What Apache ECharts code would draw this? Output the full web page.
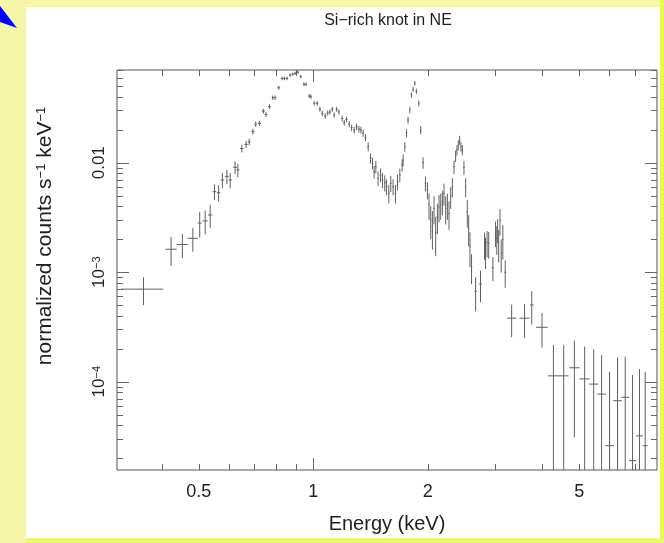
<!DOCTYPE html>
<html>
<head>
<meta charset="utf-8">
<script src="https://cdn.jsdelivr.net/npm/echarts@6/dist/echarts.min.js"></script>
<style>
  html, body { margin: 0; padding: 0; background: #f5f6a8; }
  #main { width: 664px; height: 543px; }
</style>
</head>
<body>
<div id="main"></div>
<script>
// spectrum points: bin centre (keV), half width, normalized counts, 1-sigma error
var energy = [
  0.358, 0.423, 0.453, 0.4825, 0.503, 0.520, 0.536, 0.550, 0.564, 0.577,
  0.593, 0.605, 0.623, 0.6335, 0.649, 0.666, 0.6785, 0.694, 0.706, 0.722,
  0.7395, 0.7515, 0.767, 0.7826, 0.7937, 0.8115, 0.828, 0.8396, 0.853, 0.869,
  0.883, 0.8955, 0.9047, 0.912, 0.927, 0.9454, 0.957, 0.976, 0.986, 1.006,
  1.024, 1.041, 1.056, 1.075, 1.091, 1.106, 1.122, 1.135, 1.152, 1.168,
  1.191, 1.206, 1.223, 1.243, 1.261, 1.281, 1.2995, 1.318, 1.334, 1.352,
  1.372, 1.394, 1.414, 1.431, 1.445, 1.460, 1.480, 1.502, 1.520, 1.541,
  1.557, 1.579, 1.598, 1.621, 1.644, 1.664, 1.688, 1.712, 1.722, 1.740,
  1.758, 1.774, 1.793, 1.811, 1.829, 1.848, 1.866, 1.893, 1.916, 1.943,
  1.971, 1.995, 2.014, 2.035, 2.056, 2.076, 2.097, 2.119, 2.140, 2.162,
  2.184, 2.205, 2.228, 2.251, 2.273, 2.296, 2.320, 2.343, 2.366, 2.385,
  2.405, 2.424, 2.443, 2.464, 2.488, 2.514, 2.539, 2.560, 2.580, 2.605,
  2.670, 2.750, 2.818, 2.835, 2.862, 2.890, 2.964, 3.012, 3.035, 3.050,
  3.070, 3.094, 3.117, 3.148, 3.194, 3.320, 3.590, 3.750, 3.990, 4.275,
  4.549, 4.853, 5.164, 5.454, 5.722, 6.004, 6.301, 6.601, 6.900, 7.197, 7.448
];
var energyErr = [
  0.045, 0.0145, 0.015, 0.015, 0.006, 0.008, 0.007, 0.006, 0.006, 0.006,
  0.007, 0.006, 0.007, 0.006, 0.007, 0.007, 0.006, 0.007, 0.006, 0.007,
  0.007, 0.006, 0.007, 0.006, 0.006, 0.007, 0.007, 0.006, 0.006, 0.006,
  0.006, 0.005, 0.004, 0.004, 0.006, 0.006, 0.006, 0.006, 0.005, 0.007,
  0.007, 0.007, 0.007, 0.007, 0.007, 0.007, 0.007, 0.007, 0.007, 0.007,
  0.008, 0.007, 0.008, 0.008, 0.008, 0.008, 0.008, 0.008, 0.007, 0.008,
  0.008, 0.008, 0.008, 0.007, 0.007, 0.007, 0.008, 0.008, 0.008, 0.008,
  0.008, 0.008, 0.008, 0.008, 0.008, 0.008, 0.008, 0.008, 0.006, 0.008,
  0.008, 0.008, 0.008, 0.008, 0.008, 0.008, 0.008, 0.009, 0.009, 0.009,
  0.009, 0.009, 0.009, 0.009, 0.009, 0.009, 0.009, 0.009, 0.009, 0.009,
  0.009, 0.009, 0.009, 0.009, 0.009, 0.010, 0.010, 0.010, 0.010, 0.010,
  0.010, 0.010, 0.010, 0.010, 0.011, 0.011, 0.011, 0.011, 0.011, 0.012,
  0.02, 0.025, 0.01, 0.01, 0.01, 0.012, 0.02, 0.01, 0.01, 0.008,
  0.008, 0.01, 0.01, 0.012, 0.02, 0.09, 0.11, 0.04, 0.14, 0.14,
  0.14, 0.15, 0.16, 0.15, 0.15, 0.16, 0.16, 0.16, 0.15, 0.15, 0.12
];
var flux = [
  0.00070, 0.00162, 0.00179, 0.00204, 0.00281, 0.00294, 0.00333, 0.00544, 0.00532, 0.00695,
  0.00751, 0.00695, 0.00907, 0.00858, 0.0135, 0.0147, 0.0155, 0.0192, 0.0225, 0.0229,
  0.0296, 0.0276, 0.0325, 0.0393, 0.0393, 0.0484, 0.0589, 0.0589, 0.0589, 0.0632,
  0.0645, 0.0655, 0.068, 0.0668, 0.0613, 0.0521, 0.0521, 0.0407, 0.0401, 0.0349,
  0.0349, 0.0308, 0.0283, 0.0267, 0.0285, 0.0291, 0.0308, 0.0273, 0.0308, 0.0291,
  0.0254, 0.0232, 0.0249, 0.0225, 0.0209, 0.0199, 0.0213, 0.0203, 0.0199, 0.0186,
  0.0170, 0.0140, 0.0110, 0.00987, 0.00827, 0.00919, 0.00720, 0.00772, 0.00695, 0.00656,
  0.00604, 0.00526, 0.00648, 0.00604, 0.00526, 0.00670, 0.00772, 0.00953, 0.01059, 0.0140,
  0.0186, 0.0245, 0.0303, 0.0415, 0.0469, 0.0532, 0.0449, 0.0349, 0.0199, 0.0100,
  0.00648, 0.00563, 0.00411, 0.00300, 0.00261, 0.00383, 0.00230, 0.00322, 0.00396, 0.00411,
  0.00441, 0.00526, 0.00383, 0.00411, 0.00344, 0.00489, 0.00604, 0.00919, 0.01151, 0.0131,
  0.0145, 0.0161, 0.0140, 0.0131, 0.00907, 0.00604, 0.00356, 0.00252, 0.00171, 0.00112,
  0.00067, 0.00078, 0.0018, 0.00157, 0.00187, 0.00183, 0.00110, 0.0023, 0.00204, 0.00245,
  0.00183, 0.00296, 0.00149, 0.00200, 0.00100, 0.00038, 0.00038, 0.000502, 0.000314, 0.000113,
  0.000113, 0.000134, 0.000106, 0.000095, 0.000077, 0.000026, 0.000067, 0.000072, 0.000019, 0.000032, 0.000026
];
var fluxErr = [
  0.0002, 0.00048, 0.00045, 0.0005, 0.00075, 0.00072, 0.0008, 0.0009, 0.0009, 0.0011,
  0.0011, 0.0011, 0.0012, 0.0012, 0.0011, 0.0011, 0.0011, 0.0012, 0.0013, 0.0013,
  0.0015, 0.0015, 0.0016, 0.0018, 0.0018, 0.002, 0.0022, 0.0022, 0.0022, 0.0022,
  0.0022, 0.0022, 0.0022, 0.0022, 0.0022, 0.002, 0.002, 0.0018, 0.0018, 0.0017,
  0.0017, 0.0016, 0.0015, 0.0015, 0.0015, 0.0015, 0.0016, 0.0015, 0.0016, 0.0015,
  0.0015, 0.0014, 0.0015, 0.0014, 0.0014, 0.0014, 0.0014, 0.0014, 0.0014, 0.0014,
  0.0013, 0.0013, 0.0012, 0.0012, 0.0011, 0.0012, 0.0011, 0.0011, 0.0011, 0.0011,
  0.0010, 0.0010, 0.0011, 0.0010, 0.0010, 0.0011, 0.0011, 0.0012, 0.0013, 0.0014,
  0.0016, 0.0018, 0.002, 0.0024, 0.0025, 0.0027, 0.0025, 0.0022, 0.0017, 0.0012,
  0.0010, 0.0010, 0.0011, 0.0010, 0.0010, 0.0011, 0.0009, 0.0010, 0.0011, 0.0011,
  0.0011, 0.0012, 0.0011, 0.0011, 0.0010, 0.0011, 0.0012, 0.0013, 0.0014, 0.0014,
  0.0015, 0.0015, 0.0014, 0.0014, 0.0013, 0.0012, 0.0010, 0.0008, 0.0006, 0.00034,
  0.00023, 0.00025, 0.0005, 0.0005, 0.0005, 0.0005, 0.00027, 0.0006, 0.0006, 0.0006,
  0.0006, 0.0008, 0.0005, 0.0007, 0.00028, 0.000125, 0.00013, 0.00017, 0.00011, 0.000103,
  0.000103, 0.000103, 0.000103, 0.000102, 0.000098, 0.000097, 0.0001, 0.000097, 0.000096, 0.000098, 0.000097
];

// axis labels and tick marks
var xTickLabels = [0.5, 1, 2, 5];
var yTickLabels = [0.0001, 0.001, 0.01];
var xMajorTicks = [1];
var xMinorTicks = [0.4, 0.5, 0.6, 0.7, 0.8, 0.9, 2, 3, 4, 5, 6, 7];
var yMajorTicks = [0.0001, 0.001, 0.01];
var yMinorTicks = [
  0.00002, 0.00003, 0.00004, 0.00005, 0.00006, 0.00007, 0.00008, 0.00009,
  0.0002, 0.0003, 0.0004, 0.0005, 0.0006, 0.0007, 0.0008, 0.0009,
  0.002, 0.003, 0.004, 0.005, 0.006, 0.007, 0.008, 0.009,
  0.02, 0.03, 0.04, 0.05, 0.06, 0.07
];

var xMin = 0.305, xMax = 8, yMin = 1.56e-5, yMax = 0.0703;
var textColor = '#1e1e1e';
var fontFamily = '"Liberation Sans", Arial, sans-serif';

(function () {
  var myChart = echarts.init(document.getElementById('main'));

  // error-bar cross for every bin
  function crossItem(params, api) {
    var e = api.value(0), f = api.value(1), de = api.value(2), df = api.value(3);
    var lo = Math.max(f - df, yMin), hi = Math.min(f + df, yMax);
    var l = api.coord([Math.max(e - de, xMin), f]);
    var r = api.coord([Math.min(e + de, xMax), f]);
    var b = api.coord([e, lo]);
    var t = api.coord([e, hi]);
    var st = { stroke: '#606060', lineWidth: 1 };
    return {
      type: 'group',
      children: [
        { type: 'line', shape: { x1: l[0], y1: l[1], x2: r[0], y2: r[1] }, style: st },
        { type: 'line', shape: { x1: b[0], y1: b[1], x2: t[0], y2: t[1] }, style: st }
      ]
    };
  }

  // inward ticks on bottom + top
  function xTick(len) {
    return function (params, api) {
      var v = api.value(0);
      var b = api.coord([v, yMin]), t = api.coord([v, yMax]);
      var x = Math.round(b[0]) + 0.5;
      var st = { stroke: '#666', lineWidth: 1 };
      return {
        type: 'group',
        children: [
          { type: 'line', shape: { x1: x, y1: b[1], x2: x, y2: b[1] - len }, style: st },
          { type: 'line', shape: { x1: x, y1: t[1], x2: x, y2: t[1] + len }, style: st }
        ]
      };
    };
  }
  // inward ticks on left + right
  function yTick(len) {
    return function (params, api) {
      var v = api.value(1);
      var l = api.coord([xMin, v]), r = api.coord([xMax, v]);
      var y = Math.round(l[1]) + 0.5;
      var st = { stroke: '#666', lineWidth: 1 };
      return {
        type: 'group',
        children: [
          { type: 'line', shape: { x1: l[0], y1: y, x2: l[0] + len, y2: y }, style: st },
          { type: 'line', shape: { x1: r[0], y1: y, x2: r[0] - len, y2: y }, style: st }
        ]
      };
    };
  }

  var points = energy.map(function (e, i) {
    return [e, flux[i], energyErr[i], fluxErr[i]];
  });

  var option = {
    backgroundColor: '#f5f6a8',
    animation: false,
    title: {
      text: 'Si\u2212rich knot in NE',
      left: 383,
      top: 8,
      textAlign: 'center',
      textStyle: { color: textColor, fontSize: 16, fontWeight: 'normal', fontFamily: fontFamily }
    },
    graphic: [
      // brighter frame strips on right and bottom
      {
        type: 'rect', z: -11, silent: true,
        shape: { x: 660, y: 0, width: 4, height: 543 },
        style: { fill: '#ebf84c' }
      },
      {
        type: 'rect', z: -11, silent: true,
        shape: { x: 26, y: 538, width: 638, height: 5 },
        style: { fill: '#eef66c' }
      },
      {
        type: 'rect', z: -10, silent: true,
        shape: { x: 26, y: 7, width: 634, height: 531 },
        style: { fill: '#ffffff' }
      },
      {
        type: 'polygon', z: -9, silent: true,
        shape: { points: [[0, 6], [17, 28], [0, 22]] },
        style: { fill: '#0000ff' }
      }
    ],
    grid: {
      left: 117,
      right: 7,
      top: 70,
      bottom: 73,
      show: true,
      backgroundColor: 'transparent',
      borderColor: '#555',
      borderWidth: 1
    },
    xAxis: {
      type: 'log',
      logBase: 10,
      min: xMin,
      max: xMax,
      name: 'Energy (keV)',
      nameLocation: 'middle',
      nameGap: 44,
      nameTextStyle: { color: textColor, fontSize: 20, fontFamily: fontFamily },
      axisLine: { show: false },
      axisTick: { show: false },
      splitLine: { show: false },
      axisLabel: {
        customValues: xTickLabels,
        margin: 13,
        color: textColor,
        fontSize: 18,
        fontFamily: fontFamily,
        formatter: function (v) { return String(Math.round(v * 10) / 10); }
      }
    },
    yAxis: {
      type: 'log',
      logBase: 10,
      min: yMin,
      max: yMax,
      name: 'normalized counts s{sup|\u22121} keV{sup|\u22121}',
      nameLocation: 'middle',
      nameRotate: 90,
      nameGap: 61,
      nameTextStyle: {
        color: textColor, fontSize: 21, fontFamily: fontFamily,
        padding: [0, 0, 0, 68],
        rich: { sup: { fontSize: 13, verticalAlign: 'top', color: textColor, fontFamily: fontFamily } }
      },
      axisLine: { show: false },
      axisTick: { show: false },
      splitLine: { show: false },
      axisLabel: {
        customValues: yTickLabels,
        rotate: 90,
        margin: 9,
        color: textColor,
        fontSize: 17,
        fontFamily: fontFamily,
        rich: { sup: { fontSize: 11, verticalAlign: 'top', color: textColor, fontFamily: fontFamily } },
        formatter: function (v) {
          if (v > 0.005) return '0.01';
          var p = Math.round(Math.log(v) / Math.LN10);
          return '10{sup|\u2212' + (-p) + '}';
        }
      }
    },
    series: [
      {
        name: 'xMajor', type: 'custom', silent: true, z: 3,
        renderItem: xTick(12),
        data: xMajorTicks.map(function (v) { return [v, yMin]; })
      },
      {
        name: 'xMinor', type: 'custom', silent: true, z: 3,
        renderItem: xTick(6),
        data: xMinorTicks.map(function (v) { return [v, yMin]; })
      },
      {
        name: 'yMajor', type: 'custom', silent: true, z: 3,
        renderItem: yTick(12),
        data: yMajorTicks.map(function (v) { return [xMin, v]; })
      },
      {
        name: 'yMinor', type: 'custom', silent: true, z: 3,
        renderItem: yTick(6),
        data: yMinorTicks.map(function (v) { return [xMin, v]; })
      },
      {
        name: 'spectrum', type: 'custom', silent: true, z: 4,
        renderItem: crossItem,
        clip: true,
        data: points
      }
    ]
  };

  myChart.setOption(option);
  window.addEventListener('resize', function () { myChart.resize(); });
})();
</script>
</body>
</html>
